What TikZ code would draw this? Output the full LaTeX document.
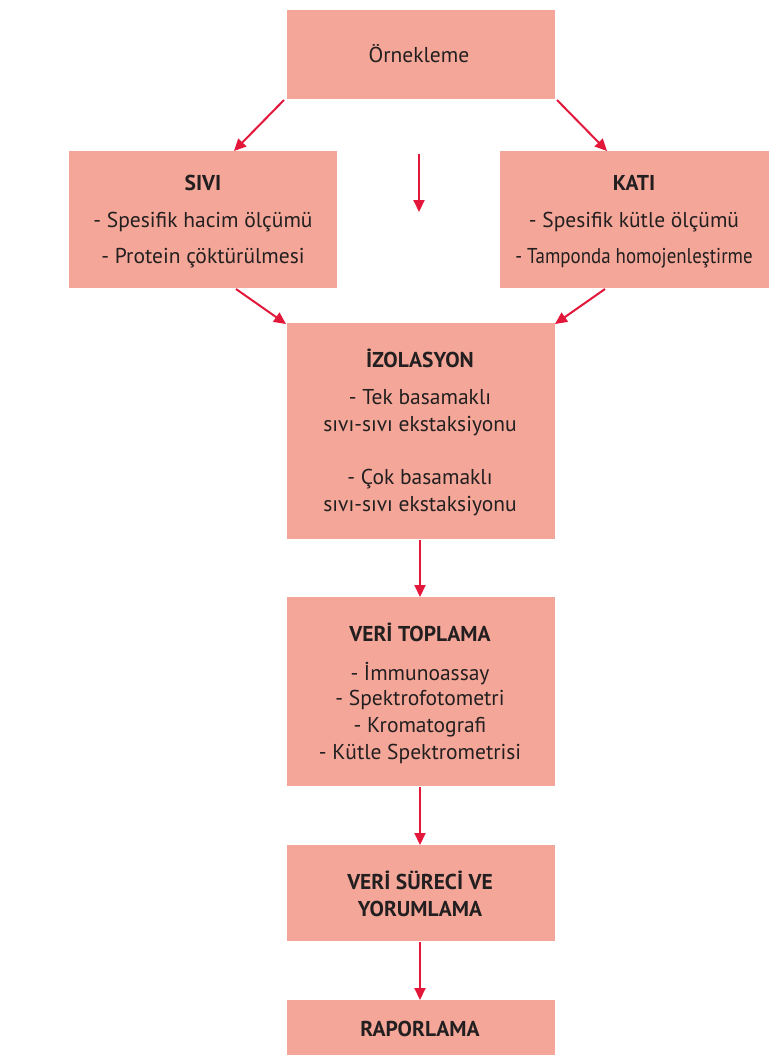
\documentclass[tikz,border=0pt]{standalone}
\usepackage{fontspec}
\setmainfont{PT Sans}
\usetikzlibrary{arrows.meta}
\definecolor{boxfill}{HTML}{F4A798}
\definecolor{arrred}{HTML}{E2173A}
\definecolor{txt}{HTML}{231F20}
\begin{document}
\begin{tikzpicture}[x=1pt,y=-1pt,
  stepbox/.style={draw=none,fill=boxfill,inner sep=0pt},
  lbl/.style={text=txt,font=\fontsize{21.5}{24}\selectfont,inner sep=0pt,anchor=base},
  ttl/.style={text=txt,font=\fontsize{21.5}{24}\selectfont\bfseries,inner sep=0pt,anchor=base},
  arr/.style={draw=arrred,line width=2pt,-{Triangle[length=12pt,width=11pt]}}]
\useasboundingbox (0,0) rectangle (778,1055);
% boxes
\path[stepbox] (287,10) rectangle (555,99);
\path[stepbox] (69,151) rectangle (337,288);
\path[stepbox] (500,151) rectangle (769,288);
\path[stepbox] (287,323) rectangle (555,539);
\path[stepbox] (287,597) rectangle (555,786);
\path[stepbox] (287,845) rectangle (555,941);
\path[stepbox] (287,1000) rectangle (555,1055);
% texts
\node (orn) at (419,62) [lbl] {Örnekleme};
\node (sivi) at (203,190) [ttl] {SIVI};
\node (s1) at (203,227) [lbl] {- Spesifik hacim ölçümü};
\node (s2) at (203,263) [lbl] {- Protein çöktürülmesi};
\node (kati) at (634,190) [ttl] {KATI};
\node (k1) at (634,227) [lbl] {- Spesifik kütle ölçümü};
\node (k2) at (634,263) [lbl] {\addfontfeature{FakeStretch=0.88}- Tamponda homojenleştirme};
\node (izo) at (420,367) [ttl] {İZOLASYON};
\node (i1) at (420,404) [lbl] {- Tek basamaklı};
\node (i2) at (420,431) [lbl] {sıvı-sıvı ekstaksiyonu};
\node (i3) at (420,484) [lbl] {- Çok basamaklı};
\node (i4) at (420,511) [lbl] {sıvı-sıvı ekstaksiyonu};
\node (veri) at (420,641) [ttl] {VERİ TOPLAMA};
\node (v1) at (420,680) [lbl] {- İmmunoassay};
\node (v2) at (420,705) [lbl] {- Spektrofotometri};
\node (v3) at (420,732) [lbl] {- Kromatografi};
\node (v4) at (420,759) [lbl] {- Kütle Spektrometrisi};
\node (sur1) at (420,889) [ttl] {VERİ SÜRECİ VE};
\node (sur2) at (420,916) [ttl] {YORUMLAMA};
\node (rap) at (420,1036) [ttl] {RAPORLAMA};
% coordinates for arrows
\coordinate (ornBL) at (284,100);
\coordinate (ornBR) at (557,100);
\coordinate (siviT) at (234,151);
\coordinate (katiT) at (607,151);
\coordinate (siviB) at (236,289);
\coordinate (katiB) at (605,289);
\coordinate (izoTL) at (286,324);
\coordinate (izoTR) at (555,324);
\coordinate (midA) at (419,154);
\coordinate (midB) at (419,212);
\coordinate (izoB) at (420,540);
\coordinate (veriT) at (420,597);
\coordinate (veriB) at (420,787);
\coordinate (surT) at (420,845);
\coordinate (surB) at (420,942);
\coordinate (rapT) at (420,1000);
\draw[arr] (ornBL) -- (siviT);
\draw[arr] (ornBR) -- (katiT);
\draw[arr] (midA) -- (midB);
\draw[arr] (siviB) -- (izoTL);
\draw[arr] (katiB) -- (izoTR);
\draw[arr] (izoB) -- (veriT);
\draw[arr] (veriB) -- (surT);
\draw[arr] (surB) -- (rapT);
\end{tikzpicture}
\end{document}
